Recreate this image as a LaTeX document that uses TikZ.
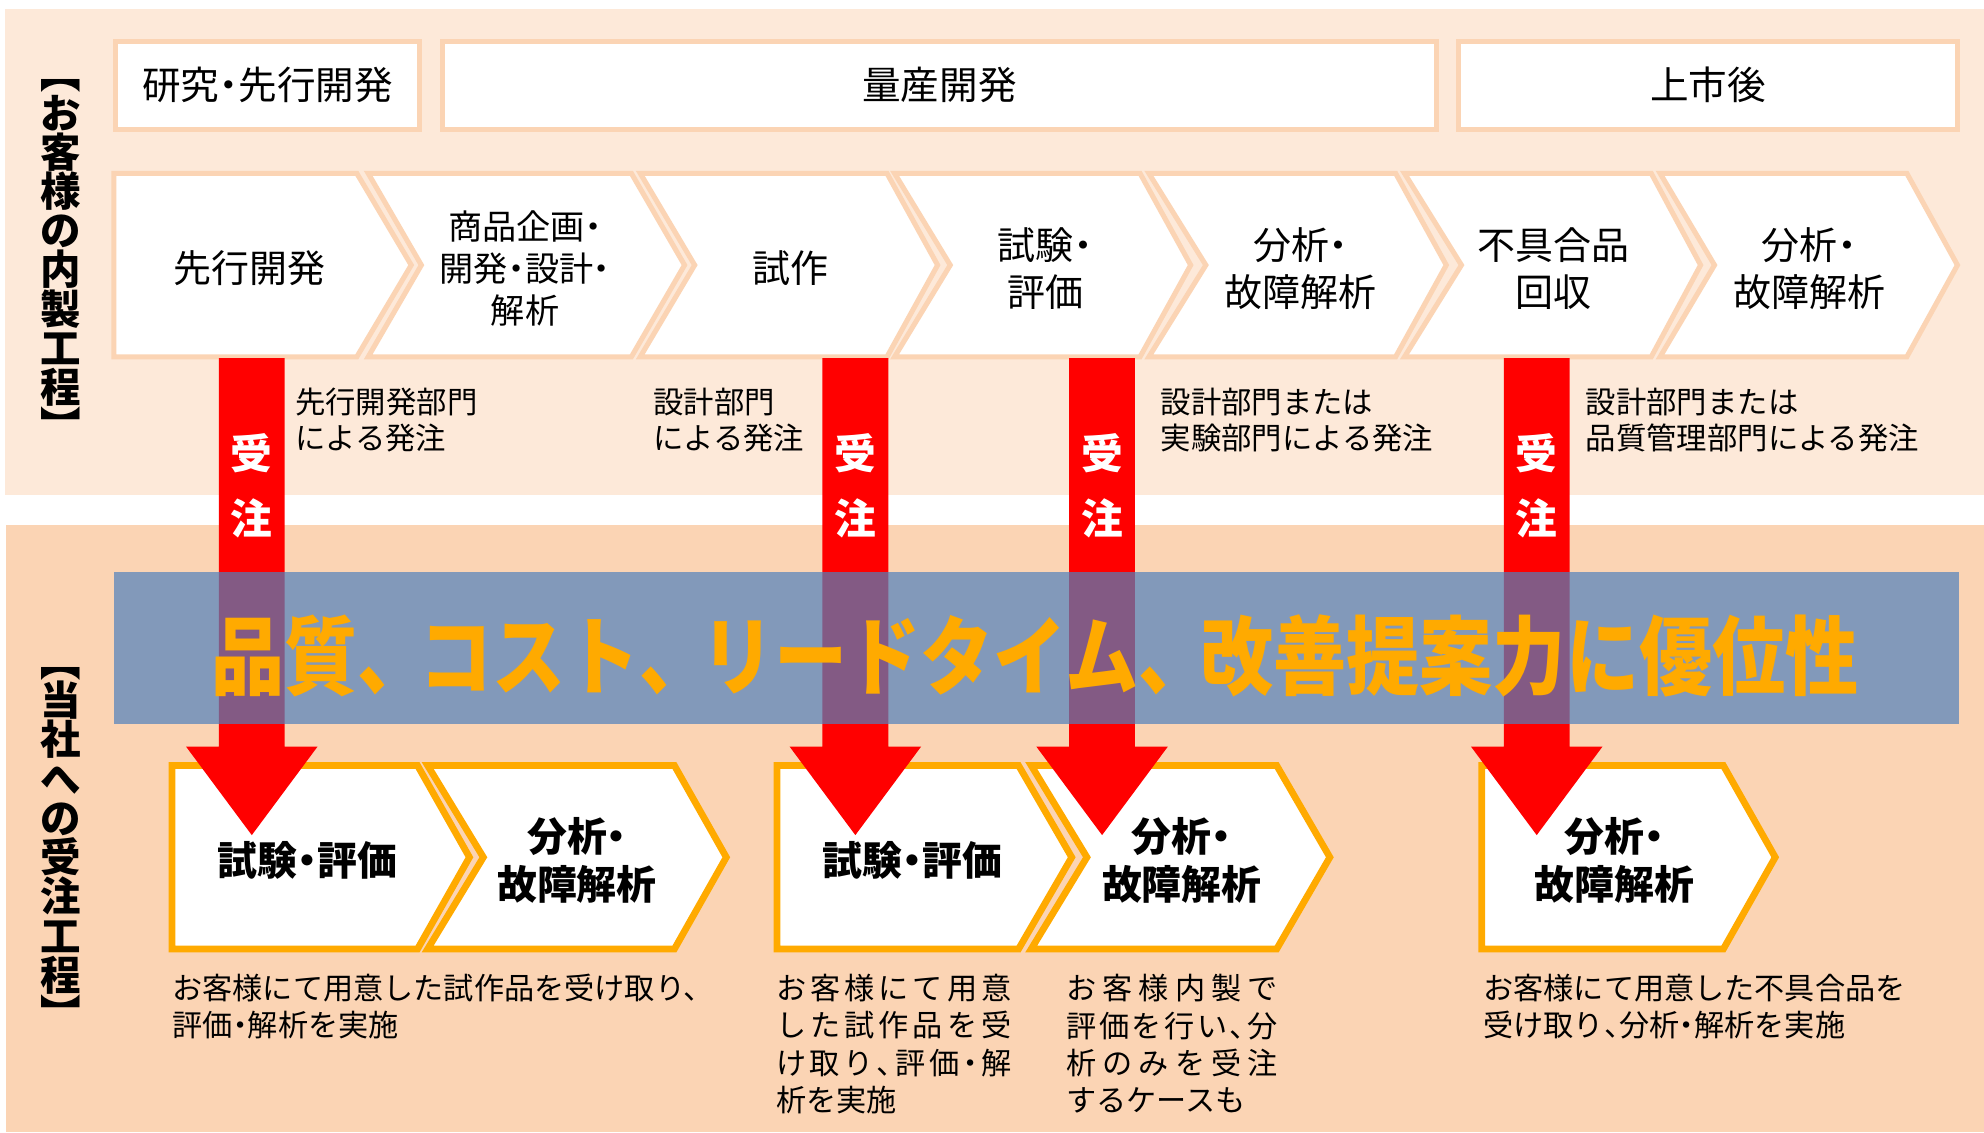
\documentclass[tikz,border=0pt]{standalone}
\usepackage{fontspec}
\setmainfont{Noto Sans CJK JP}
\newfontfamily\jpp{Noto Sans CJK JP}[RawFeature=+palt]
\newfontfamily\jpbig{Noto Sans CJK JP}[FakeStretch=0.85]
\usetikzlibrary{arrows.meta}
\definecolor{bandA}{HTML}{FDE9D9}
\definecolor{bandB}{HTML}{FBD4B4}
\definecolor{peachline}{HTML}{FBD4B4}
\definecolor{orangeA}{HTML}{FFAA00}
\definecolor{blueband}{HTML}{4F81BD}
\definecolor{redA}{HTML}{FF0000}
% chevron: [style] left, notch, right, tip, ytop, ybot
\newcommand\chevron[7][]{\draw[#1] (#2,#6) -- (#4,#6) -- (#5,{(#6+#7)/2}) -- (#4,#7) -- (#2,#7) -- (#3,{(#6+#7)/2}) -- cycle;}
% red order arrow centred on x
\newcommand\redarrow[1]{\fill[redA] (#1-26,283) -- (#1+26,283) -- (#1+26,590) -- (#1+52,590) -- (#1,660) -- (#1-52,590) -- (#1-26,590) -- cycle;}
\def\spreadfirst#1{#1\spreadnext}
\def\spreadnext#1{\ifx\relax#1\else\hfill#1\expandafter\spreadnext\fi}
\newcommand\spreadbox[2]{\hbox to #1{\spreadfirst#2\relax}}
% narrow punctuation
\def\nc{\makebox[0.5em][l]{、}}
\def\nd{\makebox[0.5em][c]{・}}
\def\bc{\makebox[0.72em][l]{、}}
\begin{document}
\begin{tikzpicture}[x=0.6pt,y=-0.6pt,
  hdrbox/.style={draw=peachline, line width=2.4pt, fill=white},
  topchev/.style={draw=peachline, line width=2.4pt, fill=white, line join=miter},
  botchev/.style={draw=orangeA, line width=3.2pt, fill=white, line join=miter},
  hdrtext/.style={font={\jpp\fontsize{18.3pt}{22pt}\selectfont}, inner sep=0},
  chtext/.style={font={\jpp\fontsize{18pt}{22.2pt}\selectfont}, align=center, inner sep=0},
  chtextS/.style={font={\jpp\fontsize{16.2pt}{19.8pt}\selectfont}, align=center, inner sep=0},
  ann/.style={font={\fontsize{14.4pt}{17.4pt}\selectfont}, align=left, inner sep=0, anchor=west},
  desc/.style={font={\fontsize{14.3pt}{17.7pt}\selectfont}, align=left, inner sep=0, anchor=west},
  btext/.style={font={\jpp\bfseries\fontsize{18.9pt}{23.1pt}\selectfont}, align=center, inner sep=0},
  bartext/.style={font={\bfseries\fontsize{19.8pt}{20pt}\selectfont}, text=white, inner sep=0},
  vlab/.style={font={\bfseries\fontsize{19.2pt}{20pt}\selectfont}, inner sep=0, text height=16.9pt, text depth=2.3pt},
  bigtext/.style={font={\jpbig\bfseries\fontsize{40.8pt}{44pt}\selectfont}, text=orangeA, inner sep=0}
]
\useasboundingbox (0,0) rectangle (1568,895);
\fill[white] (0,0) rectangle (1568,895);
% background bands
\fill[bandA] (4,7) rectangle (1568,391);
\fill[bandB] (5,415) rectangle (1568,895);
% header boxes
\draw[hdrbox] (91.5,33) rectangle (331.5,102.5);
\draw[hdrbox] (349.5,33) rectangle (1135,102.5);
\draw[hdrbox] (1153,33) rectangle (1547,102.5);
\node[hdrtext] (h1) at (211.5,67) {研究・先行開発};
\node[hdrtext] (h2) at (742.5,67) {量産開発};
\node[hdrtext] (h3) at (1350,67) {上市後};
% customer in-house process chevrons
\chevron[topchev]{90}{90}{282}{325}{137}{282}
\chevron[topchev]{291}{333}{499}{541}{137}{282}
\chevron[topchev]{506}{549}{701}{741}{137}{282}
\chevron[topchev]{707}{751}{901}{941}{137}{282}
\chevron[topchev]{908}{953}{1103}{1143}{137}{282}
\chevron[topchev]{1110}{1155}{1305}{1344}{137}{282}
\chevron[topchev]{1312}{1355}{1507}{1547}{137}{282}
\node[chtext] (c1) at (197,212) {先行開発};
\node[chtextS] (c2) at (415,212) {商品企画・\\開発・設計・\\解析};
\node[chtext] (c3) at (625,212) {試作};
\node[chtext] (c4) at (826,212) {試験・\\評価};
\node[chtext] (c5) at (1028,212) {分析・\\故障解析};
\node[chtext] (c6) at (1228,212) {不具合品\\回収};
\node[chtext] (c7) at (1430,212) {分析・\\故障解析};
% order annotations
\node[ann] (n1) at (233,332) {先行開発部門\\による発注};
\node[ann] (n2) at (516,332) {設計部門\\による発注};
\node[ann] (n3) at (917,332) {設計部門または\\実験部門による発注};
\node[ann] (n4) at (1253,332) {設計部門または\\品質管理部門による発注};
% our accepted process chevrons
\chevron[botchev]{136}{136}{330}{371}{605}{750}
\chevron[botchev]{338}{382}{533}{574}{605}{750}
\chevron[botchev]{614}{614}{805}{847}{605}{750}
\chevron[botchev]{815}{859}{1009}{1051}{605}{750}
\chevron[botchev]{1171}{1171}{1362}{1403}{605}{750}
% red order arrows
\redarrow{199}
\redarrow{676}
\redarrow{871}
\redarrow{1214.5}
\foreach \ax [count=\k] in {199,676,871,1214.5}{
  \node[bartext] (ju\k) at (\ax,358) {受};
  \node[bartext] (chu\k) at (\ax,410) {注};
}
% advantage band
\fill[blueband, fill opacity=0.7] (90,452) rectangle (1548,572);
\node[bigtext] (adv) at (818,518) {品質\bc コスト\bc リードタイム\bc 改善提案力に優位性};
% texts in our chevrons
\node[btext] (b1) at (243,680) {試験・評価};
\node[btext] (b2) at (456,680) {分析・\\故障解析};
\node[btext] (b3) at (721,680) {試験・評価};
\node[btext] (b4) at (934,680) {分析・\\故障解析};
\node[btext] (b5) at (1276,680) {分析・\\故障解析};
% descriptions
\node[desc] (d1) at (136,795.5) {お客様にて用意した試作品を受け取り、\\評価\nd 解析を実施};
\node[desc] (d2) at (613,825) {\spreadbox{111.6pt}{お客様にて用意}\\\spreadbox{111.6pt}{した試作品を受}\\\spreadbox{111.6pt}{け取り\nc 評価\nd 解}\\析を実施};
\node[desc] (d3) at (842.5,825) {\spreadbox{100.2pt}{お客様内製で}\\\spreadbox{100.2pt}{評価を行い\nc 分}\\\spreadbox{100.2pt}{析のみを受注}\\するケースも};
\node[desc] (d4) at (1172,795.5) {お客様にて用意した不具合品を\\受け取り\nc 分析\nd 解析を実施};
% vertical side labels
\foreach \c [count=\i from 0] in {︻,お,客,様,の,内,製,工,程,︼}{
  \node[vlab] (tl\i) at (48,{58+31*\i}) {\c};
}
\foreach \c [count=\i from 0] in {︻,当,社,へ,の,受,注,工,程,︼}{
  \node[vlab] (bl\i) at (48,{522.5+31*\i}) {\c};
}
\end{tikzpicture}
\end{document}
